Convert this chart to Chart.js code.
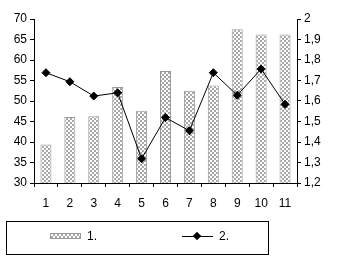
<!DOCTYPE html>
<html>
<head>
<meta charset="utf-8">
<script src="https://cdn.jsdelivr.net/npm/chart.js@4.4.0/dist/chart.umd.min.js"></script>
<style>
  body { margin: 0; background: #fff; font-family: "Liberation Sans", Arial, sans-serif; }
  .wrap { position: relative; width: 337px; height: 261px; }
  .legend {
    position: absolute; left: 6px; top: 221px; width: 263px; height: 34px;
    border: 1px solid #000; box-sizing: border-box; font-size: 12px;
  }
  .sw-bar {
    position: absolute; left: 43px; top: 11px; width: 31px; height: 6px;
    border: 1px solid #999; box-sizing: border-box;
    background: repeating-conic-gradient(#a8a8a8 0 25%, #fff 0 50%) 0 0 / 4px 4px;
  }
  .sw-line { position: absolute; left: 175px; top: 14px; width: 31px; height: 1px; background: #000; }
  .sw-dot { position: absolute; left: 187px; top: 11px; width: 6px; height: 6px; background: #000; transform: rotate(45deg); }
  .lbl { position: absolute; top: 7px; }
</style>
</head>
<body>
<div class="wrap">
  <canvas id="c" width="337" height="261"></canvas>
  <div class="legend">
    <div class="sw-bar"></div><span class="lbl" style="left:80px">1.</span>
    <div class="sw-line"></div><div class="sw-dot"></div><span class="lbl" style="left:212px">2.</span>
  </div>
</div>
<script>
const categories = ["1", "2", "3", "4", "5", "6", "7", "8", "9", "10", "11"];
const series1 = [39.4, 46.1, 46.3, 53.4, 47.6, 57.3, 52.5, 53.8, 67.5, 66.2, 66.2];
const series2 = [1.738, 1.694, 1.624, 1.64, 1.318, 1.519, 1.455, 1.738, 1.628, 1.756, 1.584];

function checker() {
  const p = document.createElement("canvas");
  p.width = 4; p.height = 4;
  const g = p.getContext("2d");
  g.fillStyle = "#fff"; g.fillRect(0, 0, 4, 4);
  g.fillStyle = "#a8a8a8";
  g.fillRect(0, 0, 2, 2); g.fillRect(2, 2, 2, 2);
  return g.createPattern(p, "repeat");
}

const font = { family: "'Liberation Sans', Arial, sans-serif", size: 12 };
const ctx = document.getElementById("c");

new Chart(ctx, {
  data: {
    labels: categories,
    datasets: [
      {
        type: "line",
        label: "2.",
        data: series2,
        yAxisID: "y1",
        borderColor: "#000",
        borderWidth: 1,
        backgroundColor: "#000",
        pointStyle: "rectRot",
        pointRadius: 4,
        tension: 0
      },
      {
        type: "bar",
        label: "1.",
        data: series1,
        yAxisID: "y",
        backgroundColor: checker(),
        borderColor: "#999",
        borderWidth: 1,
        barPercentage: 0.46,
        categoryPercentage: 1
      }
    ]
  },
  options: {
    responsive: false,
    animation: false,
    layout: { padding: { top: 19, bottom: 45, left: 0, right: 0 } },
    plugins: { legend: { display: false }, tooltip: { enabled: false } },
    scales: {
      x: {
        offset: true,
        grid: { offset: true, drawOnChartArea: false, color: "#000", tickLength: 4 },
        border: { color: "#000" },
        ticks: { color: "#000", font, padding: 9, maxRotation: 0 },
        afterFit: (s) => { s.height = 33; }
      },
      y: {
        position: "left",
        min: 30, max: 70,
        grid: { drawOnChartArea: false, color: "#000", tickLength: 4 },
        border: { color: "#000" },
        ticks: { stepSize: 5, color: "#000", font, padding: 3 },
        afterFit: (s) => { s.width = 34; }
      },
      y1: {
        position: "right",
        min: 1.2, max: 2,
        grid: { drawOnChartArea: false, color: "#000", tickLength: 4 },
        border: { color: "#000" },
        ticks: {
          stepSize: 0.1, color: "#000", font, padding: 3,
          callback: (v) => (Math.round(v * 10) / 10).toString().replace(".", ",")
        },
        afterFit: (s) => { s.width = 40; }
      }
    }
  }
});
</script>
</body>
</html>
